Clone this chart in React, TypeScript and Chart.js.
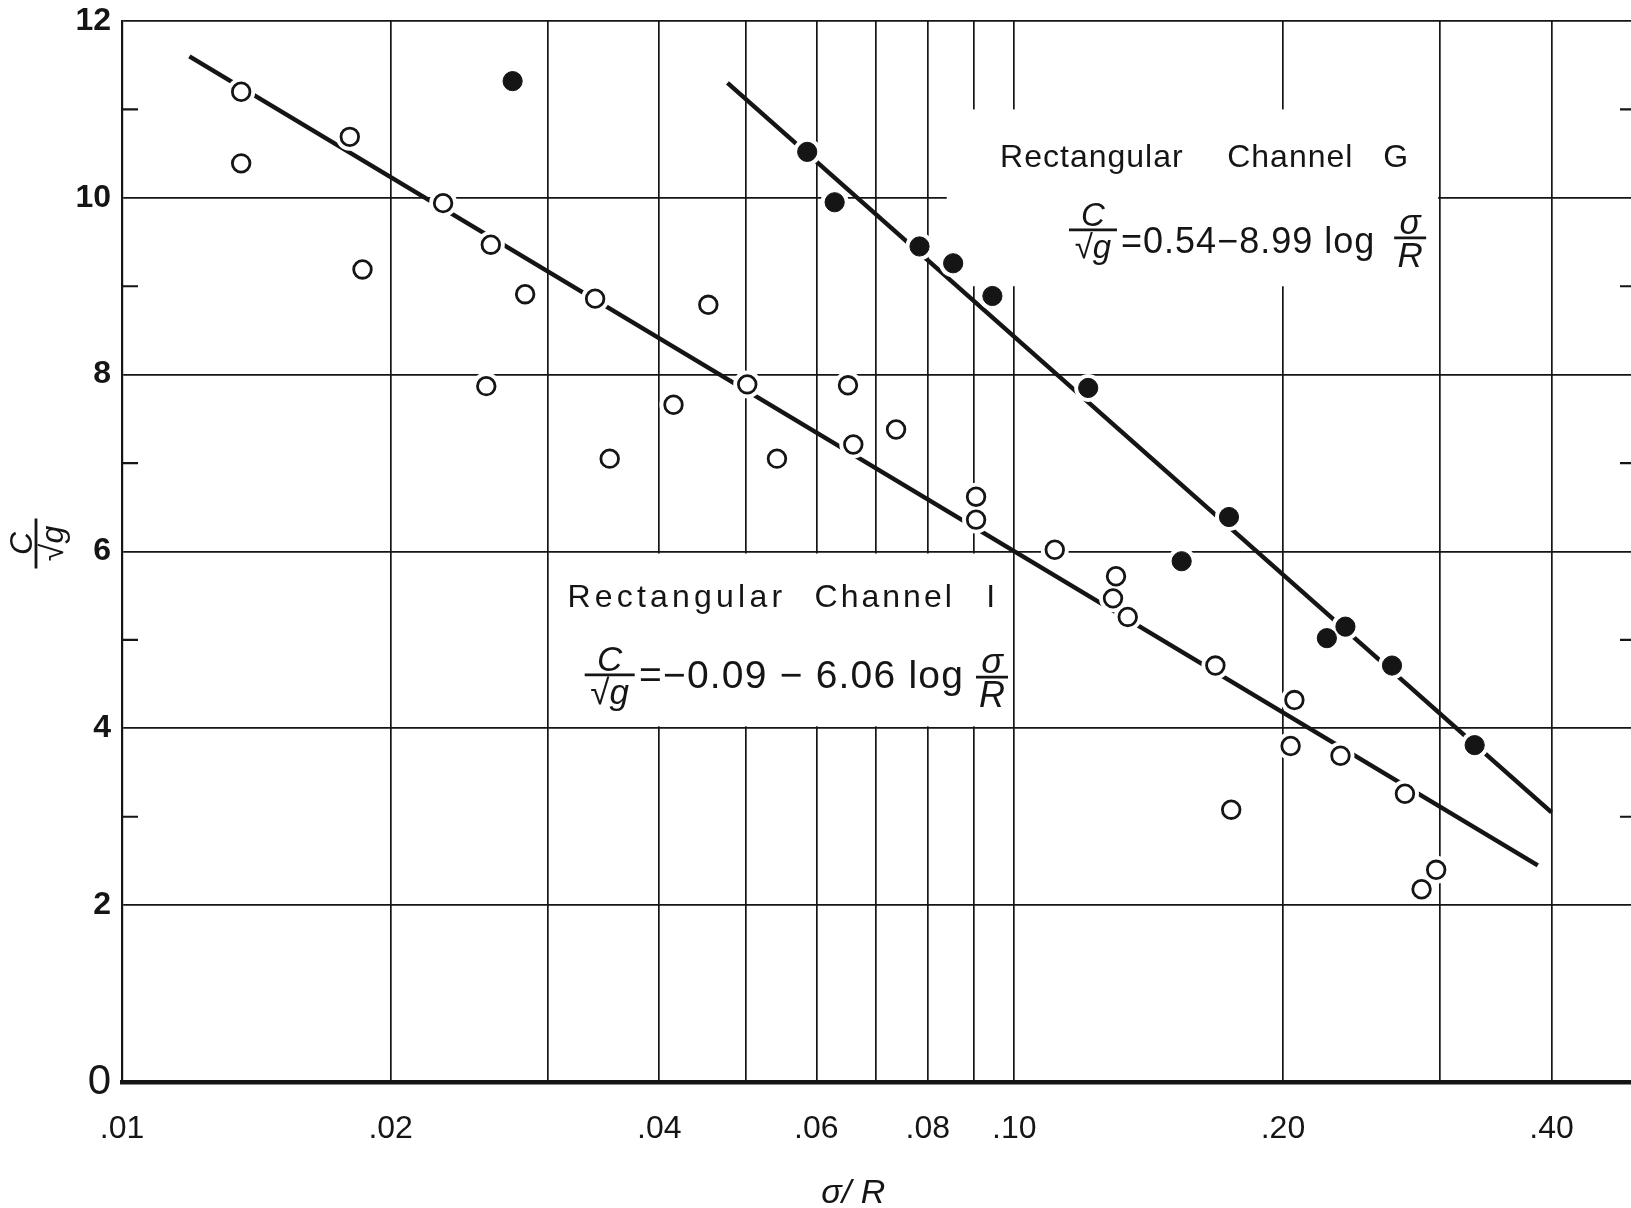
import React, { useEffect, useRef } from "react";
import { Chart, registerables } from "chart.js";

Chart.register(...registerables);

// ---- data ----
// Rectangular Channel I (open circles)
const channelIX = [0.0136, 0.0136, 0.018, 0.0186, 0.0229, 0.0259, 0.0256, 0.0283, 0.0339, 0.0352, 0.0415, 0.0454, 0.0502, 0.0542, 0.0651, 0.066, 0.0737, 0.0906, 0.0906, 0.111, 0.13, 0.129, 0.134, 0.168, 0.175, 0.206, 0.204, 0.232, 0.274, 0.286, 0.297];
const channelIY = [11.2, 10.39, 10.69, 9.19, 9.94, 9.47, 7.87, 8.91, 8.86, 7.05, 7.66, 8.79, 7.89, 7.05, 7.88, 7.21, 7.38, 6.62, 6.36, 6.02, 5.72, 5.47, 5.26, 4.71, 3.08, 4.32, 3.8, 3.69, 3.26, 2.18, 2.4];
// Rectangular Channel G (filled circles)
const channelGX = [0.0274, 0.0586, 0.0629, 0.0783, 0.0854, 0.0945, 0.121, 0.174, 0.154, 0.224, 0.235, 0.265, 0.328];
const channelGY = [11.32, 10.52, 9.95, 9.45, 9.26, 8.89, 7.85, 6.39, 5.89, 5.02, 5.15, 4.71, 3.81];
// fitted lines (end points as drawn)
const fitIX = [0.0119, 0.386];
const fitIY = [11.6, 2.45];
const fitGX = [0.0477, 0.4];
const fitGY = [11.3, 3.05];
// axes
const xGridValues = [0.01, 0.02, 0.03, 0.04, 0.05, 0.06, 0.07, 0.08, 0.09, 0.1, 0.2, 0.3, 0.4];
const xLabelValues = [0.01, 0.02, 0.04, 0.06, 0.08, 0.1, 0.2, 0.4];
const xLabelTexts = [".01", ".02", ".04", ".06", ".08", ".10", ".20", ".40"];
const yTickValues = [0, 2, 4, 6, 8, 10, 12];
const yMinorTicks = [3, 5, 7, 9, 11];

const INK = "#151515";
const FAM = '"Liberation Sans", Arial, sans-serif';

const toPts = (xs: number[], ys: number[]) => xs.map((x, i) => ({ x, y: ys[i] }));

function text(ctx: any, s: string, x: number, y: number, font: string, spacing = 0, align: any = "left") {
  ctx.font = font;
  ctx.textAlign = align;
  ctx.textBaseline = "alphabetic";
  ctx.letterSpacing = spacing + "px";
  ctx.fillText(s, x, y);
  ctx.letterSpacing = "0px";
}

function frac(ctx: any, cx: number, by: number, top: string, bottom: string, w: number, font: string) {
  ctx.font = font;
  ctx.textAlign = "center";
  ctx.letterSpacing = "0px";
  ctx.textBaseline = "alphabetic";
  ctx.fillText(top, cx, by - 4);
  ctx.textBaseline = "top";
  ctx.fillText(bottom, cx, by + 2);
  ctx.lineWidth = 2.8;
  ctx.beginPath();
  ctx.moveTo(cx - w / 2, by);
  ctx.lineTo(cx + w / 2, by);
  ctx.stroke();
}

const annotPlugin = {
  id: "annot",
  beforeDatasetsDraw(chart: any) {
    const { ctx, chartArea, scales } = chart;
    const x = scales.x;
    const y = scales.y;
    ctx.save();
    ctx.fillStyle = "#fff";
    // label box for Channel G
    {
      const x0 = x.getPixelForValue(0.084);
      const x1 = x.getPixelForValue(0.3) - 2;
      const y0 = y.getPixelForValue(11);
      const y1 = y.getPixelForValue(9);
      ctx.fillRect(x0, y0, x1 - x0, y1 - y0);
    }
    // label box for Channel I
    {
      const x0 = x.getPixelForValue(0.03) + 2;
      const x1 = x.getPixelForValue(0.1) - 2;
      const y0 = y.getPixelForValue(6) + 2;
      const y1 = y.getPixelForValue(4) - 2;
      ctx.fillRect(x0, y0, x1 - x0, y1 - y0);
    }
    // minor ticks
    ctx.strokeStyle = INK;
    ctx.lineWidth = 2.2;
    yMinorTicks.forEach((v) => {
      const py = y.getPixelForValue(v);
      ctx.beginPath();
      ctx.moveTo(chartArea.left, py);
      ctx.lineTo(chartArea.left + 16, py);
      ctx.moveTo(chartArea.right - 11, py);
      ctx.lineTo(chartArea.right, py);
      ctx.stroke();
    });
    ctx.restore();
  },
  afterDatasetsDraw(chart: any) {
    const { ctx, chartArea, scales } = chart;
    const x = scales.x;
    const y = scales.y;
    const X = (v: number) => x.getPixelForValue(v);
    const Y = (v: number) => y.getPixelForValue(v);
    ctx.save();
    ctx.fillStyle = INK;
    ctx.strokeStyle = INK;

    // Channel G annotation
    const f32 = `32px ${FAM}`;
    text(ctx, "Rectangular", X(0.0964), Y(10.354), f32, 1);
    text(ctx, "Channel", X(0.1732), Y(10.354), f32, 1);
    text(ctx, "G", X(0.259), Y(10.354), f32, 0);
    frac(ctx, X(0.1225), Y(9.638), "C", "√g", 48, `italic 33px ${FAM}`);
    text(ctx, "=0.54−8.99 log", X(0.1317), Y(9.378), `36px ${FAM}`, 1);
    frac(ctx, X(0.2777), Y(9.548), "σ", "R", 32, `italic 35px ${FAM}`);

    // Channel I annotation
    text(ctx, "Rectangular", X(0.03157), Y(5.368), f32, 4.2);
    text(ctx, "Channel", X(0.05973), Y(5.368), f32, 3);
    text(ctx, "I", X(0.09303), Y(5.368), f32, 0);
    frac(ctx, X(0.0352), Y(4.604), "C", "√g", 50, `italic 35px ${FAM}`);
    text(ctx, "=−0.09 − 6.06 log", X(0.03796), Y(4.457), `39px ${FAM}`, 1.2);
    frac(ctx, X(0.0944), Y(4.58), "σ", "R", 32, `italic 36px ${FAM}`);

    // x-axis title
    text(ctx, "σ/ R", X(0.066), chartArea.bottom + 121, `italic 34px ${FAM}`, 0, "center");

    // y-axis title (rotated fraction)
    ctx.translate(chartArea.left - 84, Y(6) - 8);
    ctx.rotate(-Math.PI / 2);
    frac(ctx, 0, -2, "C", "√g", 50, `italic 32px ${FAM}`);
    ctx.restore();
  },
};

export default function App() {
  const ref = useRef<HTMLCanvasElement | null>(null);
  useEffect(() => {
    document.body.style.margin = "0";
    document.body.style.overflow = "hidden";
    const canvas = ref.current;
    if (!canvas) return;
    const chart = new Chart(canvas, {
      type: "scatter",
      data: {
        datasets: [
          { label: "fit I", data: toPts(fitIX, fitIY), showLine: true, borderColor: INK, borderWidth: 4.5, pointRadius: 0, order: 3 } as any,
          { label: "fit G", data: toPts(fitGX, fitGY), showLine: true, borderColor: INK, borderWidth: 4.5, pointRadius: 0, order: 3 } as any,
          { label: "halo I", data: toPts(channelIX, channelIY), pointRadius: 14, pointBackgroundColor: "#fff", pointBorderWidth: 0, pointBorderColor: "#fff", order: 2 } as any,
          { label: "halo G", data: toPts(channelGX, channelGY), pointRadius: 14, pointBackgroundColor: "#fff", pointBorderWidth: 0, pointBorderColor: "#fff", order: 2 } as any,
          { label: "Rectangular Channel I", data: toPts(channelIX, channelIY), pointRadius: 8.8, pointBorderWidth: 2.8, pointBackgroundColor: "#fff", pointBorderColor: INK, order: 1 } as any,
          { label: "Rectangular Channel G", data: toPts(channelGX, channelGY), pointRadius: 9.6, pointBorderWidth: 1, pointBackgroundColor: INK, pointBorderColor: INK, order: 1 } as any,
        ],
      },
      options: {
        responsive: false,
        animation: false,
        devicePixelRatio: 1,
        events: [],
        layout: { autoPadding: false, padding: { top: 21, left: 0, right: 0, bottom: 0 } },
        plugins: { legend: { display: false }, tooltip: { enabled: false }, title: { display: false } },
        scales: {
          x: {
            type: "logarithmic",
            min: 0.01,
            max: 0.491,
            afterBuildTicks: (s: any) => {
              s.ticks = xGridValues.map((v) => ({ value: v }));
            },
            afterFit: (s: any) => {
              s.height = 126;
              s.paddingLeft = 0;
              s.paddingRight = 0;
            },
            grid: { color: INK, lineWidth: 1.7, drawTicks: false },
            border: { display: true, color: INK, width: 4.5 },
            ticks: {
              autoSkip: false,
              maxRotation: 0,
              minRotation: 0,
              padding: 28,
              color: INK,
              font: { family: FAM, size: 32 },
              callback: (v: any) => {
                const i = xLabelValues.findIndex((l) => Math.abs(l - Number(v)) < 1e-9);
                return i >= 0 ? xLabelTexts[i] : "";
              },
            },
          },
          y: {
            min: 0,
            max: 12,
            afterBuildTicks: (s: any) => {
              s.ticks = yTickValues.map((v) => ({ value: v }));
            },
            afterFit: (s: any) => {
              s.width = 122;
              s.paddingTop = 0;
              s.paddingBottom = 0;
            },
            grid: { color: INK, lineWidth: 1.7, drawTicks: false },
            border: { display: true, color: INK, width: 2.2 },
            ticks: {
              padding: 11,
              color: INK,
              font: (c: any) =>
                c.tick && c.tick.value === 0
                  ? { family: FAM, size: 42 }
                  : { family: FAM, size: 32, weight: "bold" },
              callback: (v: any) => String(v),
            },
          },
        },
      } as any,
      plugins: [annotPlugin],
    });
    return () => chart.destroy();
  }, []);
  return (
    <div style={{ position: "absolute", left: 0, top: 0, width: 1631, height: 1208, background: "#fff" }}>
      <canvas ref={ref} width={1631} height={1208} style={{ width: 1631, height: 1208, display: "block" }} />
    </div>
  );
}
